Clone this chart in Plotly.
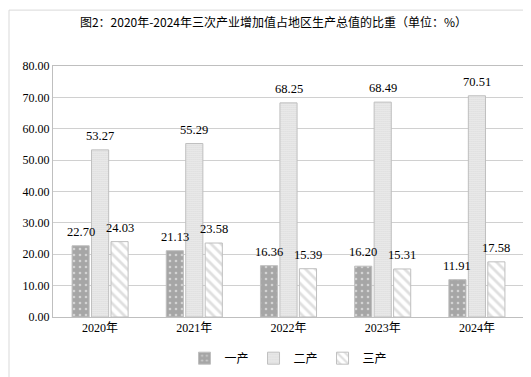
import plotly.graph_objects as go

years = ["2020年", "2021年", "2022年", "2023年", "2024年"]
primary = [22.70, 21.13, 16.36, 16.20, 11.91]
secondary = [53.27, 55.29, 68.25, 68.49, 70.51]
tertiary = [24.03, 23.58, 15.39, 15.31, 17.58]
series_names = ["一产", "二产", "三产"]
y_ticks = [0, 10, 20, 30, 40, 50, 60, 70, 80]

W, H = 531, 377
L, R, T, B = 45, 15, 58, 63
pw, ph = W - L - R, H - T - B
bargap, bargroupgap = 0.38, 0.12
slot = pw / len(years) * (1 - bargap) / 3

serif = "Liberation Serif, Times New Roman, Noto Sans CJK SC, serif"
line_col = "#bfbfbf"

fig = go.Figure()
styles = [
    dict(color="#a6a6a6", pattern=dict(shape=".", fgcolor="white", bgcolor="#a6a6a6", size=6, solidity=0.15)),
    dict(color="#d9d9d9", pattern=dict(shape=".", fgcolor="#9a9a9a", bgcolor="white", size=2, solidity=0.6)),
    dict(color="#bfbfbf", pattern=dict(shape="\\", fgcolor="#bfbfbf", bgcolor="white", size=7, solidity=0.4)),
]
all_vals = [primary, secondary, tertiary]
for name, vals, st in zip(series_names, all_vals, styles):
    fig.add_trace(go.Bar(
        x=years, y=vals, name=name,
        marker=dict(color=st["color"], pattern=st["pattern"], line=dict(color=line_col, width=1)),
    ))

# value labels on top of all bars
for i, vals in enumerate(all_vals):
    for yr, v in zip(years, vals):
        fig.add_annotation(x=yr, y=v, xref="x", yref="y", text=f"{v:.2f}", showarrow=False,
                           xshift=(i - 1) * slot, yshift=14, yanchor="middle",
                           font=dict(family=serif, size=12.5, color="black"))

fig.update_layout(
    width=W, height=H,
    margin=dict(l=L, r=R, t=T, b=B),
    paper_bgcolor="white", plot_bgcolor="white",
    barmode="group", bargap=bargap, bargroupgap=bargroupgap,
    title=dict(text="图2：2020年-2024年三次产业增加值占地区生产总值的比重（单位：%）",
               x=0.5, xanchor="center", y=1 - 15 / H, yanchor="middle",
               font=dict(family="Noto Sans CJK SC, " + serif, size=12, color="black")),
    legend=dict(orientation="h", x=0.5, xanchor="center", y=(313 - 355) / ph, yanchor="middle",
                font=dict(family="Noto Sans CJK SC", size=12, color="black"),
                itemwidth=30, traceorder="normal", tracegroupgap=0),
)
fig.update_yaxes(range=[0, 80], tickvals=y_ticks, tickformat=".2f",
                 showgrid=True, gridcolor="#d0d0d0", gridwidth=1,
                 showline=True, linecolor=line_col, mirror=True, zeroline=False,
                 tickfont=dict(family=serif, size=12, color="black"), ticks="", ticklen=0)
fig.update_xaxes(showline=True, linecolor=line_col, mirror=True, showgrid=False,
                 tickfont=dict(family=serif + ", Noto Sans CJK SC", size=12, color="black"))

# outer chart border
fig.add_shape(type="rect", xref="paper", yref="paper",
              x0=(1 - L) / pw, x1=(W - 2 - L) / pw,
              y0=(H - B - (H - 1)) / ph, y1=(H - B - 1) / ph,
              line=dict(color="#d9d9d9", width=1), layer="below")

fig.write_html("out.html")
